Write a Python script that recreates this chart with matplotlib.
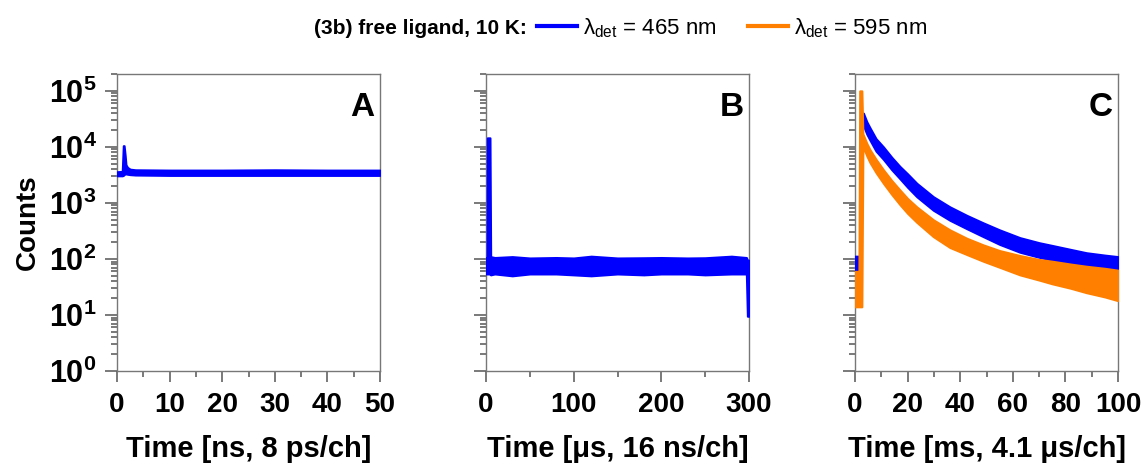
import numpy as np
import matplotlib
matplotlib.use('Agg')
import matplotlib.pyplot as plt
from matplotlib.lines import Line2D
from matplotlib.ticker import LogLocator, FuncFormatter, MultipleLocator, NullFormatter

plt.rcParams['font.family'] = ['Liberation Sans', 'DejaVu Sans']
plt.rcParams['mathtext.fontset'] = 'custom'
plt.rcParams['mathtext.rm'] = 'Liberation Sans'
plt.rcParams['mathtext.bf'] = 'Liberation Sans:bold'
plt.rcParams['mathtext.it'] = 'Liberation Sans:italic'

BLUE = '#0000ff'
ORANGE = '#ff8000'

# panel A: time in ns, band edges of the 465 nm trace
a_t = [0, 1.0, 1.2, 1.35, 1.55, 1.7, 2.0, 2.5, 3.5, 10, 20, 30, 40, 50]
a_hi = [3600, 3650, 10500, 10500, 7000, 4800, 4300, 4000, 3900, 3850, 3850, 3900, 3850, 3850]
a_lo = [3050, 3050, 3100, 3200, 3300, 3300, 3250, 3200, 3150, 3100, 3100, 3100, 3100, 3100]

# panel B: time in us
b_t = [0, 1.2, 1.5, 4.5, 5.3, 10, 30, 50, 80, 100, 120, 150, 180, 200, 230, 250, 280, 297, 298.2, 300]
b_hi = [105, 105, 14500, 14500, 110, 106, 110, 104, 106, 104, 112, 104, 105, 106, 104, 105, 112, 106, 95, 95]
b_lo = [54, 54, 54, 54, 52, 54, 50, 54, 54, 52, 50, 54, 52, 54, 54, 52, 54, 54, 9.5, 9.5]

# panel C: time in ms, 465 nm
cb_t = [0, 1.5, 2.4, 2.6, 3.2, 4.5, 5.7, 8, 10.8, 14, 17.1, 20, 23.5, 29.8, 36.1, 42.5, 48.8, 55, 62.7, 70, 75, 82, 88, 95, 100]
cb_hi = [112, 112, 112, 40000, 40000, 28000, 21900, 14000, 10000, 6500, 4470, 3300, 2240, 1290, 850, 600, 440, 330, 240, 195, 174, 148, 129, 117, 110]
cb_lo = [58, 58, 58, 24000, 24000, 16900, 13200, 8400, 6000, 3900, 2700, 1900, 1290, 740, 490, 347, 250, 182, 132, 107, 95, 81, 71, 63, 59]

# panel C: time in ms, 595 nm
co_t = [0, 1.5, 1.8, 2.6, 3.0, 3.2, 4.5, 5.7, 8, 10.8, 14, 17.1, 20, 23.5, 29.8, 36.1, 42.5, 48.8, 55, 62.7, 70, 75, 82, 88, 95, 100]
co_hi = [60, 60, 100000, 100000, 17000, 16200, 11500, 8900, 6000, 3900, 2500, 1700, 1200, 850, 500, 330, 234, 178, 141, 115, 98, 91, 81, 74, 68, 63]
co_lo = [14, 14, 14, 14, 10000, 9800, 6900, 5250, 3470, 2240, 1410, 930, 650, 450, 250, 160, 120, 91, 71, 52, 42, 36, 30, 25, 21, 18]

W, H = 1143, 469
fig = plt.figure(figsize=(W / 100, H / 100), dpi=100)

lefts = [117, 486, 855]
ax_w, ax_top, ax_bot = 263, 74, 371
axes = [fig.add_axes([l / W, (H - ax_bot) / H, ax_w / W, (ax_bot - ax_top) / H]) for l in lefts]


def band(ax, t, lo, hi, color, z):
    ax.fill_between(t, lo, hi, facecolor=color, edgecolor=color, linewidth=1.5, zorder=z)


band(axes[0], a_t, a_lo, a_hi, BLUE, 3)
band(axes[1], b_t, b_lo, b_hi, BLUE, 3)
band(axes[2], cb_t, cb_lo, cb_hi, BLUE, 3)
band(axes[2], co_t, co_lo, co_hi, ORANGE, 4)

xlims = [(0, 50), (0, 300), (0, 100)]
xmaj = [10, 100, 20]
xmin = [5, 50, 10]
xlabels = ['Time [ns, 8 ps/ch]', 'Time [μs, 16 ns/ch]', 'Time [ms, 4.1 μs/ch]']
letters = ['A', 'B', 'C']

for i, ax in enumerate(axes):
    ax.set_yscale('log')
    ax.set_ylim(1, 2.0e5)
    ax.set_xlim(*xlims[i])
    ax.xaxis.set_major_locator(MultipleLocator(xmaj[i]))
    ax.xaxis.set_minor_locator(MultipleLocator(xmin[i]))
    ax.yaxis.set_major_locator(LogLocator(base=10, numticks=10))
    ax.yaxis.set_minor_locator(LogLocator(base=10, subs=np.arange(2, 10), numticks=20))
    ax.yaxis.set_minor_formatter(NullFormatter())
    if i == 0:
        ax.yaxis.set_major_formatter(FuncFormatter(lambda v, p: r'$\mathbf{10^{%d}}$' % round(np.log10(v))))
        ax.set_ylabel('Counts', fontsize=20, fontweight='bold')
        ax.yaxis.set_label_coords(-0.29, 0.5)
    else:
        ax.yaxis.set_major_formatter(NullFormatter())
    for s in ax.spines.values():
        s.set_color('#777777')
        s.set_linewidth(1.0)
    ax.tick_params(axis='both', which='both', direction='out', color='#555555', width=1.1,
                   top=False, right=False)
    ax.tick_params(axis='y', which='major', length=8.6, pad=6, labelsize=22)
    ax.tick_params(axis='y', which='minor', length=4.3)
    ax.tick_params(axis='x', which='major', length=8, pad=7, labelsize=20)
    ax.tick_params(axis='x', which='minor', length=4)
    for lab in ax.get_xticklabels():
        lab.set_fontweight('bold')
    ax.set_xlabel(xlabels[i], fontsize=21, fontweight='bold', labelpad=12)
    ax.text(0.98, 0.94, letters[i], transform=ax.transAxes, ha='right', va='top',
            fontsize=24, fontweight='bold')

# header legend
fig.text(527 / W, 1 - 28 / H, '(3b) free ligand, 10 K:', ha='right', va='center',
         fontsize=15, fontweight='bold')
handles = [Line2D([], [], color=BLUE, lw=3), Line2D([], [], color=ORANGE, lw=3)]
labels = [r'$\mathrm{λ_{det}}$ = 465 nm', r'$\mathrm{λ_{det}}$ = 595 nm']
fig.legend(handles, labels, loc='center left', bbox_to_anchor=(537 / W, 1 - 28 / H), ncol=2,
           frameon=False, fontsize=16, handlelength=1.8, handletextpad=0.25,
           columnspacing=1.45, borderaxespad=0, borderpad=0)

fig.savefig('out.png', dpi=100)
